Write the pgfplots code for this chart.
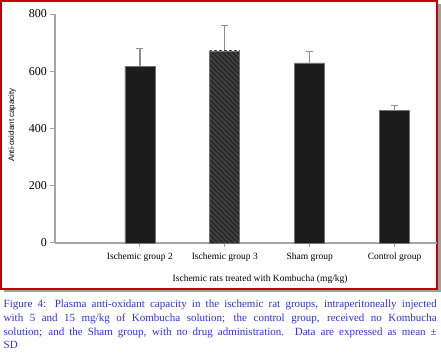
\documentclass[border=0pt]{standalone}
\usepackage{fontspec}
\setmainfont{Liberation Serif}
\newfontfamily\sansf{Liberation Sans}
\usepackage{pgfplots}
\pgfplotsset{compat=1.18}
\usetikzlibrary{patterns,backgrounds}
\pgfdeclarepatternformonly{widenwlines}{\pgfqpoint{-1pt}{-1pt}}{\pgfqpoint{6pt}{6pt}}{\pgfqpoint{5pt}{5pt}}{
  \pgfsetlinewidth{1.5pt}
  \pgfpathmoveto{\pgfqpoint{-0.1pt}{5.1pt}}
  \pgfpathlineto{\pgfqpoint{5.1pt}{-0.1pt}}
  \pgfusepath{stroke}}
\definecolor{capblue}{RGB}{48,48,230}
\definecolor{axgray}{RGB}{165,165,165}
\definecolor{errgray}{RGB}{140,140,140}
\definecolor{barblack}{RGB}{28,28,28}
\definecolor{hatchfill}{RGB}{66,66,66}
\definecolor{hatchline}{RGB}{40,40,40}
\definecolor{framered}{RGB}{200,0,0}
\begin{document}
\begin{tikzpicture}
\begin{axis}[
  scale only axis, width=382pt, height=229pt,
  xmin=0, xmax=4.5, ymin=0, ymax=800,
  axis x line*=bottom, axis y line*=left,
  axis line style={axgray, line width=1.3pt},
  ytick={0,200,400,600,800},
  xtick={1,2,3,4},
  xticklabels={Ischemic group 2, Ischemic group 3, Sham group, Control group},
  tick style={axgray, line width=1pt},
  tick align=outside, major tick length=4.5pt,
  /pgf/number format/assume math mode=true,
  y tick label style={font=\fontsize{12}{12}\selectfont},
  x tick label style={font=\fontsize{9.5}{10}\selectfont, yshift=-2pt},
  xlabel={Ischemic rats treated with Kombucha (mg/kg)},
  xlabel style={at={(axis description cs:0.537,-0.157)}, anchor=center, font=\fontsize{9.5}{10}\selectfont},
  ylabel={\sansf Anti-oxidant capacity},
  ylabel style={at={(axis description cs:-0.1126,0.515)}, anchor=center, font=\fontsize{8}{9}\selectfont},
  clip=false,
]
\addplot[ybar, bar width=30pt, bar shift=0pt, fill=barblack, draw=gray!90!black, line width=0.7pt,
  error bars/.cd, y dir=plus, y explicit,
  error bar style={color=errgray, line width=1.3pt},
  error mark options={rotate=90, errgray, mark size=3.5pt, line width=1.3pt}]
  coordinates {(1,617) +- (0,62) (3,629) +- (0,39) (4,462) +- (0,19)};
\addplot[ybar, bar width=30pt, bar shift=0pt, fill=hatchfill, draw=none,
  error bars/.cd, y dir=plus, y explicit,
  error bar style={color=errgray, line width=1.3pt},
  error mark options={rotate=90, errgray, mark size=3.5pt, line width=1.3pt}]
  coordinates {(2,671) +- (0,90)};
\addplot[ybar, bar width=30pt, bar shift=0pt, pattern=widenwlines, pattern color=hatchline,
  draw=gray!90!black, line width=0.7pt]
  coordinates {(2,671)};
\coordinate (O) at (rel axis cs:0,0);
\end{axis}
\begin{scope}[shift={(O)}, x=1pt, y=1pt, shift={(-55,-112)}]
\begin{pgfonlayer}{background}
\fill[gray!75] (4.5,62.5) rectangle (440.5,350.5);
\filldraw[fill=white, draw=framered, line width=2.2pt] (1.2,66) rectangle (436.8,353.8);
\end{pgfonlayer}
\node[anchor=north west, text width=433pt, align=justify, inner sep=0pt,
  font=\fontsize{11}{13.7}\selectfont, text=capblue] at (3.5,55)
  {Figure 4: Plasma anti-oxidant capacity in the ischemic rat groups, intraperitoneally injected\linebreak
   with 5 and 15 mg/kg of Kombucha solution; the control group, received no Kombucha\linebreak
   solution; and the Sham group, with no drug administration. Data are expressed as mean~±\linebreak
   SD};
\pgfresetboundingbox
\path[use as bounding box] (0,0) rectangle (441,355);
\end{scope}
\end{tikzpicture}
\end{document}
